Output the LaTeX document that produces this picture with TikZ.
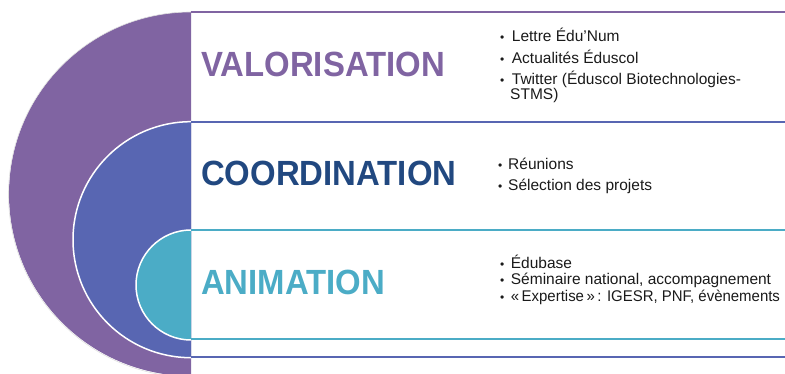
\documentclass[tikz,border=0pt]{standalone}
\usepackage{fontspec}
\setmainfont{Liberation Sans}
\newfontfamily\titlefont[FakeStretch=0.94]{Liberation Sans}
\definecolor{vpurple}{HTML}{8064A2}
\definecolor{cblue}{HTML}{5866B2}
\definecolor{ateal}{HTML}{4BACC6}
\definecolor{ctext}{HTML}{214880}
\definecolor{btext}{HTML}{1A1A1A}
\tikzset{
  title/.style={anchor=base west, inner sep=0pt, font=\titlefont\bfseries\fontsize{35}{35}\selectfont},
  item/.style={anchor=base west, inner sep=0pt, text=btext, font=\fontsize{15.5}{17}\selectfont},
  bul/.style={anchor=base west, inner sep=0pt, text=btext, font=\fontsize{12}{12}\selectfont},
  sep/.style={line width=2pt}
}
\begin{document}
\begin{tikzpicture}[x=1pt,y=1pt]
\useasboundingbox (0,0) rectangle (785,374);
\begin{scope}
\clip (0,0) rectangle (785,374);
% semicircles
\fill[vpurple] (191,362) arc[start angle=90,end angle=270,radius=182] -- cycle;
\draw[gray!25, line width=0.6pt] (191,362) arc[start angle=90,end angle=270,radius=182.5];
\fill[cblue] (191,252.3) arc[start angle=90,end angle=270,radius=118] -- cycle;
\draw[white, line width=1.5pt] (191,252.3) arc[start angle=90,end angle=270,radius=118];
\fill[ateal] (191,144) arc[start angle=90,end angle=270,radius=55] -- cycle;
\draw[white, line width=1.5pt] (191,144) arc[start angle=90,end angle=270,radius=55];
\end{scope}
% horizontal lines
\coordinate (l1a) at (191,362); \coordinate (l1b) at (785,362);
\coordinate (l2a) at (191,252); \coordinate (l2b) at (785,252);
\coordinate (l3a) at (191,144); \coordinate (l3b) at (785,144);
\coordinate (l4a) at (191,34.5); \coordinate (l4b) at (785,34.5);
\coordinate (l5a) at (191,16.7); \coordinate (l5b) at (785,16.7);
\draw[sep, vpurple] (l1a) -- (l1b);
\draw[sep, cblue] (l2a) -- (l2b);
\draw[sep, ateal] (l3a) -- (l3b);
\draw[sep, ateal] (l4a) -- (l4b);
\draw[sep, cblue] (l5a) -- (l5b);
% titles
\node[title, text=vpurple] (tv) at (201,297.3) {VALORISATION};
\node[title, text=ctext] (tc) at (201,188.3) {COORDINATION};
\node[title, text=ateal] (ta) at (201,79) {ANIMATION};
% valorisation items
\node[bul] (bv1) at (500,332.3) {•};
\node[item] (v1) at (511.7,332.3) {Lettre Édu’Num};
\node[bul] (bv2) at (500,310.7) {•};
\node[item] (v2) at (511.7,310.7) {Actualités Éduscol};
\node[bul] (bv3) at (500,289) {•};
\node[item] (v3) at (511.7,289) {Twitter (Éduscol Biotechnologies-};
\node[item] (v4) at (510,274) {STMS)};
% coordination items
\node[bul] (bc1) at (498,204) {•};
\node[item] (c1) at (508,204) {Réunions};
\node[bul] (bc2) at (498,183.3) {•};
\node[item] (c2) at (508,183.3) {Sélection des projets};
% animation items
\node[bul] (ba1) at (500,105.7) {•};
\node[item] (a1) at (510.7,105.7) {Édubase};
\node[bul] (ba2) at (500,89) {•};
\node[item] (a2) at (510.7,89) {Séminaire national, accompagnement};
\node[bul] (ba3) at (500,72.3) {•};
\node[item] (a3) at (510.7,72.3) {\scalebox{0.965}[1]{«\,Expertise\,»\,: IGESR, PNF, évènements}};
\end{tikzpicture}
\end{document}
